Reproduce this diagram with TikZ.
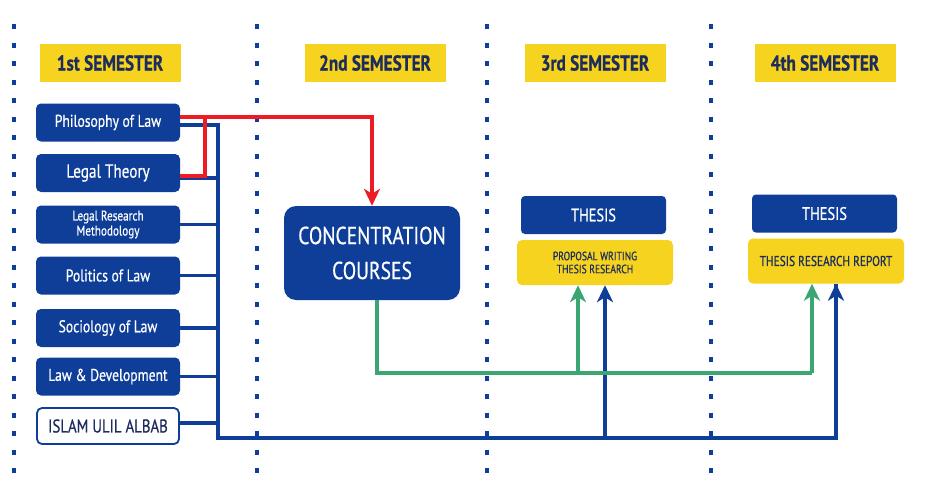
\documentclass[tikz,border=0pt]{standalone}
\usepackage{fontspec}
\newfontfamily\condfont[FakeStretch=0.8,FakeBold=0.6]{PT Sans}
\usepackage{xcolor}
\usepackage{tikz}
\usetikzlibrary{arrows.meta,calc}
\definecolor{uniblue}{HTML}{0E3E98}
\definecolor{uniyellow}{HTML}{F5D31F}
\definecolor{uninavy}{HTML}{1C2C5E}
\definecolor{unired}{HTML}{EC1C24}
\definecolor{unigreen}{HTML}{3CA673}
\begin{document}
\begin{tikzpicture}[x=1pt,y=-1pt,
  semhead/.style={fill=uniyellow,minimum width=141pt,minimum height=38pt,inner sep=0pt,
    text=uninavy,font=\condfont\bfseries\fontsize{21.5}{22}\selectfont},
  course/.style={fill=uniblue,rounded corners=5pt,minimum width=144pt,minimum height=38pt,
    inner sep=0pt,text=white,align=center,font=\condfont\fontsize{17}{18}\selectfont},
  coursew/.style={course,fill=white,draw=uniblue,line width=1.8pt,text=uninavy,minimum width=142pt,minimum height=36pt},
  bigbox/.style={fill=uniblue,rounded corners=12pt,minimum width=176pt,minimum height=94pt,
    inner sep=0pt,text=white,align=center,font=\condfont\fontsize{24.5}{35}\selectfont},
  thesisbox/.style={fill=uniblue,rounded corners=4pt,minimum width=145pt,minimum height=38pt,
    inner sep=0pt,text=white,font=\condfont\fontsize{18}{19}\selectfont},
  notebox/.style={fill=uniyellow,rounded corners=5pt,minimum width=156pt,minimum height=45pt,
    inner sep=0pt,text=uninavy,align=center},
  sep/.style={uniblue,line width=3.5pt,dash pattern=on 5pt off 13.5pt},
  blueline/.style={uniblue,line width=3.2pt},
  redline/.style={unired,line width=4.2pt},
  greenline/.style={unigreen,line width=3.2pt},
  tip/.style={-{Stealth[length=17pt,width=16pt,inset=5pt]}}]
\useasboundingbox (0,0) rectangle (929,482);
\foreach \sx in {14,257,487,711}
  \draw[sep] (\sx,24) -- (\sx,482);

\node[semhead] (sem1) at (110,63) {1st SEMESTER};
\node[semhead] (sem2) at (375,63) {2nd SEMESTER};
\node[semhead] (sem3) at (595,63) {3rd SEMESTER};
\node[semhead] (sem4) at (825,63) {4th SEMESTER};

\node[course] (phil) at (108,122.5) {Philosophy of Law};
\node[course,font=\condfont\fontsize{19}{20}\selectfont] (theory) at (108,173) {Legal Theory};
\node[course,font=\condfont\fontsize{14}{15}\selectfont] (method) at (108,224.5) {Legal Research\\Methodology};
\node[course] (politics) at (108,275.5) {Politics of Law};
\node[course] (sociology) at (108,328) {Sociology of Law};
\node[course] (develop) at (108,376.5) {Law \& Development};
\node[coursew,font=\condfont\fontsize{18.5}{19}\selectfont] (islam) at (108,426) {ISLAM ULIL ALBAB};

\node[bigbox] (conc) at (372,253) {CONCENTRATION\\COURSES};

\node[thesisbox] (thesis3) at (593.5,215) {THESIS};
\node[notebox,font=\condfont\fontsize{12}{13}\selectfont] (plan3) at (595,262.5) {PROPOSAL WRITING\\THESIS RESEARCH};
\node[thesisbox] (thesis4) at (824.5,213.5) {THESIS};
\node[notebox,font=\condfont\fontsize{14.2}{15}\selectfont] (plan4) at (826,261) {THESIS RESEARCH REPORT};

\coordinate (bustop) at (218,125);
\coordinate (busbot) at (218,438);
\coordinate (redjoin) at (205,117);

\draw[blueline] ([yshift=-2.5pt]phil.east) -- (bustop) -- (busbot) -| ([xshift=10pt]plan4.south);
\foreach \c/\dy in {theory/-5,method/0,politics/0,sociology/0,develop/0,islam/3}
  \draw[blueline] ([yshift=\dy pt]\c.east) -- ([yshift=\dy pt]\c.east -| bustop);
\draw[blueline,tip] ([xshift=10pt]plan3.south |- busbot) -- ([xshift=10pt]plan3.south);
\draw[blueline,tip] ([xshift=10pt]plan4.south |- busbot) -- ([xshift=10pt]plan4.south);

\draw[greenline] ([xshift=5pt]conc.south) |- (812,373) coordinate (gend);
\draw[greenline,tip] (gend) -- ([xshift=-14pt]plan4.south);
\draw[greenline,tip] ([xshift=-17pt]plan3.south |- gend) -- ([xshift=-17pt]plan3.south);

\draw[redline] ([yshift=-3pt]theory.east) -| (redjoin);
\draw[redline,tip] ([yshift=5.5pt]phil.east) -| (conc.north);
\end{tikzpicture}
\end{document}
